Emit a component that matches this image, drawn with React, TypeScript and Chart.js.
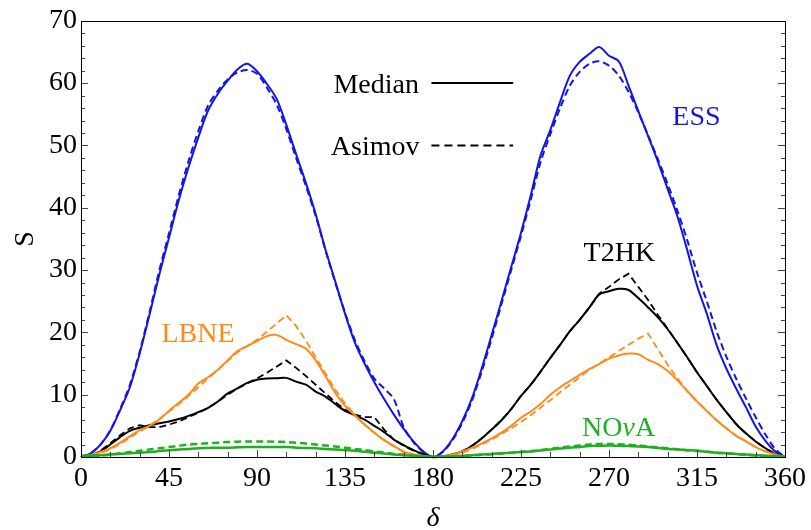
import { useEffect, useRef } from "react";
import { Chart, registerables } from "chart.js";

Chart.register(...registerables);

// delta grid (degrees), step 5
const DELTA = Array.from({ length: 73 }, (_, i) => i * 5);

const X_TICKS = [0, 45, 90, 135, 180, 225, 270, 315, 360];
const Y_TICKS = [0, 10, 20, 30, 40, 50, 60, 70];

const ESS_MEDIAN = [
  0, 0.6, 2.0, 4.2, 7.5, 11.2, 16.6, 22.8, 29.2, 35.2, 41.2, 46.5, 51.3, 55.6, 58.3, 60.4, 62.2, 63.1, 61.9,
  59.9, 57.5, 53.3, 48.6, 44.0, 39.0, 33.3, 28.2, 23.0, 18.4, 15.0, 12.0, 9.3, 6.8, 4.5, 2.5, 0.9, 0,
  0.9, 2.9, 5.8, 9.5, 14.3, 19.6, 25.0, 30.5, 36.0, 42.0, 48.4, 52.5, 57.0, 61.2, 63.4, 64.7, 65.8, 64.4,
  63.5, 59.6, 55.5, 51.5, 47.4, 43.0, 38.6, 33.2, 27.5, 23.0, 18.0, 14.2, 11.0, 8.0, 4.9, 2.6, 0.9, 0,
];
const ESS_ASIMOV = [
  0, 0.6, 2.0, 4.3, 7.7, 11.6, 16.9, 23.2, 29.9, 35.9, 42.0, 47.5, 52.3, 56.4, 58.8, 60.6, 61.7, 62.1, 61.5,
  59.3, 56.6, 52.6, 48.0, 43.5, 38.7, 33.2, 28.0, 23.2, 18.8, 15.4, 12.6, 11.0, 9.3, 4.8, 2.4, 0.8, 0,
  0.8, 2.7, 5.5, 9.1, 13.8, 19.0, 24.5, 30.0, 35.5, 41.3, 47.3, 51.8, 56.0, 59.6, 61.8, 63.1, 63.5, 62.8,
  61.2, 58.6, 55.3, 51.6, 47.8, 43.8, 39.5, 34.8, 29.6, 25.0, 20.2, 16.1, 12.6, 9.4, 6.4, 3.6, 1.3, 0,
];
const T2HK_MEDIAN = [
  0, 0.2, 0.9, 2.0, 3.2, 4.2, 4.7, 5.1, 5.4, 5.7, 6.1, 6.6, 7.2, 7.9, 8.9, 10.2, 11.0, 11.9, 12.4,
  12.6, 12.65, 12.7, 12.1, 11.6, 10.5, 9.7, 8.5, 7.4, 6.7, 6.0, 5.0, 4.0, 2.8, 1.9, 1.1, 0.5, 0,
  0.1, 0.4, 0.9, 1.8, 3.0, 4.4, 5.9, 7.7, 9.8, 11.6, 13.7, 15.9, 18.0, 20.2, 22.0, 24.0, 26.1, 26.6,
  27.0, 26.8, 25.5, 24.0, 22.4, 20.5, 18.3, 16.0, 13.6, 11.4, 9.2, 7.2, 5.3, 3.8, 2.5, 1.4, 0.5, 0,
];
const T2HK_ASIMOV = [
  0, 0.2, 1.0, 2.2, 3.5, 4.6, 5.1, 4.8, 4.8, 5.2, 5.7, 6.4, 7.1, 7.9, 8.9, 10.0, 11.0, 11.8, 12.6,
  13.5, 14.5, 15.5, 14.3, 13.0, 11.6, 10.2, 8.8, 7.6, 6.8, 6.4, 6.4, 4.4, 2.8, 1.8, 1.0, 0.4, 0,
  0.1, 0.4, 0.9, 1.8, 3.0, 4.4, 5.9, 7.7, 9.8, 11.6, 13.7, 15.9, 18.0, 20.2, 22.0, 24.0, 26.2, 27.3,
  28.5, 29.4, 27.3, 25.2, 22.8, 20.6, 18.3, 16.0, 13.6, 11.4, 9.2, 7.2, 5.3, 3.8, 2.5, 1.4, 0.5, 0,
];
const LBNE_MEDIAN = [
  0, 0.3, 0.8, 1.4, 2.3, 3.3, 4.3, 5.0, 6.0, 7.4, 8.7, 10.0, 11.8, 12.8, 14.0, 15.5, 17.0, 17.8, 18.6,
  19.4, 19.6, 18.8, 18.1, 17.4, 15.5, 13.0, 10.3, 8.2, 6.7, 5.2, 3.9, 2.7, 1.8, 0.8, 0.4, 0.2, 0,
  0.1, 0.4, 0.9, 1.5, 2.2, 3.0, 3.9, 5.0, 6.3, 7.3, 8.5, 10.0, 11.2, 12.2, 13.2, 14.1, 14.9, 15.8,
  16.3, 16.6, 16.5, 15.6, 14.9, 13.8, 12.3, 10.6, 8.9, 7.4, 5.9, 4.6, 3.4, 2.5, 1.6, 0.9, 0.4, 0,
];
const LBNE_ASIMOV = [
  0, 0.2, 0.6, 1.2, 2.1, 3.1, 4.1, 5.0, 6.1, 7.3, 8.5, 9.8, 11.2, 12.6, 14.0, 15.4, 16.8, 17.8, 18.8,
  20.1, 21.4, 22.75, 21.0, 18.7, 16.0, 13.4, 10.8, 8.6, 6.8, 5.2, 3.9, 2.7, 1.7, 0.9, 0.4, 0.1, 0,
  0.1, 0.3, 0.7, 1.3, 2.0, 2.8, 3.7, 4.6, 5.6, 6.7, 7.9, 9.1, 10.4, 11.6, 12.8, 14.0, 15.0, 16.0,
  17.0, 18.0, 19.0, 19.8, 17.3, 14.8, 12.6, 10.6, 8.9, 7.4, 5.9, 4.6, 3.4, 2.5, 1.6, 0.9, 0.4, 0,
];
const NOVA_MEDIAN = [
  0.2, 0.25, 0.3, 0.4, 0.5, 0.6, 0.7, 0.8, 0.95, 1.1, 1.2, 1.3, 1.4, 1.45, 1.5, 1.5, 1.55, 1.6, 1.6,
  1.6, 1.6, 1.6, 1.5, 1.45, 1.4, 1.3, 1.2, 1.1, 1.0, 0.85, 0.7, 0.55, 0.4, 0.3, 0.2, 0.1, 0,
  0.05, 0.1, 0.2, 0.3, 0.4, 0.5, 0.6, 0.7, 0.8, 0.9, 1.05, 1.2, 1.35, 1.5, 1.6, 1.75, 1.8, 1.85,
  1.8, 1.75, 1.7, 1.6, 1.45, 1.3, 1.2, 1.1, 1.0, 0.85, 0.7, 0.6, 0.5, 0.4, 0.3, 0.2, 0.15, 0.1,
];
const NOVA_ASIMOV = [
  0, 0.1, 0.2, 0.4, 0.6, 0.8, 1.0, 1.2, 1.4, 1.6, 1.8, 2.0, 2.1, 2.2, 2.3, 2.4, 2.45, 2.5, 2.5,
  2.5, 2.45, 2.4, 2.3, 2.15, 2.0, 1.85, 1.7, 1.5, 1.3, 1.1, 0.9, 0.7, 0.5, 0.35, 0.2, 0.1, 0,
  0.05, 0.1, 0.15, 0.25, 0.35, 0.45, 0.55, 0.7, 0.8, 0.95, 1.1, 1.3, 1.5, 1.7, 1.85, 2.0, 2.1, 2.1,
  2.05, 1.95, 1.85, 1.7, 1.55, 1.4, 1.25, 1.1, 1.0, 0.85, 0.7, 0.6, 0.45, 0.35, 0.25, 0.15, 0.05, 0,
];

const BLUE = "#1414e6";
const ORANGE = "#ff8a17";
const GREEN = "#1fb01f";
const BLACK = "#000000";
const FAMILY = "Liberation Serif";
const FONT = "'Liberation Serif'";

function pts(vals: number[]) {
  return vals.map((v, i) => ({ x: DELTA[i], y: v }));
}

const framePlugin = {
  id: "frameTicks",
  afterDatasetsDraw(chart: any) {
    const { ctx, chartArea } = chart;
    const { left, right, top, bottom } = chartArea;
    const xs = chart.scales.x;
    const ys = chart.scales.y;
    ctx.save();
    ctx.strokeStyle = "#444";
    ctx.lineWidth = 1;
    ctx.beginPath();
    for (let v = 0; v <= 70; v += 2) {
      const py = Math.round(ys.getPixelForValue(v)) + 0.5;
      const len = v % 10 === 0 ? 7 : 4;
      ctx.moveTo(left, py);
      ctx.lineTo(left + len, py);
      ctx.moveTo(right, py);
      ctx.lineTo(right - len, py);
    }
    for (let v = 0; v <= 360; v += 15) {
      const px = Math.round(xs.getPixelForValue(v)) + 0.5;
      const len = v % 45 === 0 ? 7 : 5;
      ctx.moveTo(px, bottom);
      ctx.lineTo(px, bottom - len);
    }
    ctx.stroke();
    ctx.strokeStyle = "#000";
    ctx.strokeRect(Math.round(left) + 0.5, Math.round(top) + 0.5, Math.round(right - left), Math.round(bottom - top));
    ctx.restore();
  },
  afterDraw(chart: any) {
    const { ctx } = chart;
    const xs = chart.scales.x;
    const ys = chart.scales.y;
    const X = (v: number) => xs.getPixelForValue(v);
    const Y = (v: number) => ys.getPixelForValue(v);
    const fN = `28px ${FONT}`;
    const fI = `italic 28px ${FONT}`;
    ctx.save();
    ctx.textBaseline = "alphabetic";
    ctx.font = fN;
    // legend
    ctx.fillStyle = BLACK;
    ctx.textAlign = "right";
    ctx.fillText("Median", X(172.8), Y(58.4));
    ctx.fillText("Asimov", X(173.1), Y(48.4));
    ctx.strokeStyle = BLACK;
    ctx.lineWidth = 2;
    ctx.beginPath();
    ctx.moveTo(X(179.2), Y(60.0));
    ctx.lineTo(X(221), Y(60.0));
    ctx.stroke();
    ctx.setLineDash([8, 5]);
    ctx.beginPath();
    ctx.moveTo(X(179.2), Y(50.0));
    ctx.lineTo(X(221), Y(50.0));
    ctx.stroke();
    ctx.setLineDash([]);
    // series labels
    ctx.textAlign = "center";
    ctx.fillStyle = BLUE;
    ctx.fillText("ESS", X(314.7), Y(53.2));
    ctx.fillStyle = BLACK;
    ctx.fillText("T2HK", X(275.3), Y(31.45));
    ctx.fillStyle = ORANGE;
    ctx.fillText("LBNE", X(59.8), Y(18.47));
    // NOvA with italic nu
    ctx.fillStyle = GREEN;
    ctx.textAlign = "left";
    ctx.font = fN;
    const w1 = ctx.measureText("NO").width;
    const w3 = ctx.measureText("A").width;
    ctx.font = fI;
    const w2 = ctx.measureText("ν").width;
    let sx = X(274.9) - (w1 + w2 + w3) / 2;
    const by = Y(3.42);
    ctx.font = fN;
    ctx.fillText("NO", sx, by);
    sx += w1;
    ctx.font = fI;
    ctx.fillText("ν", sx, by);
    sx += w2;
    ctx.font = fN;
    ctx.fillText("A", sx, by);
    // axis titles
    ctx.fillStyle = BLACK;
    ctx.textAlign = "center";
    ctx.font = fI;
    ctx.fillText("δ", (chart.chartArea.left + chart.chartArea.right) / 2, 526);
    ctx.font = fN;
    ctx.translate(33, (chart.chartArea.top + chart.chartArea.bottom) / 2);
    ctx.rotate(-Math.PI / 2);
    ctx.fillText("S", 0, 0);
    ctx.restore();
  },
};

export default function App() {
  const ref = useRef<HTMLCanvasElement | null>(null);
  useEffect(() => {
    if (!ref.current) return;
    let chart: any = null;
    let cancelled = false;
    const mk = (label: string, vals: number[], color: string, dashed: boolean, width: number, order: number, tension: number) => ({
      label,
      data: pts(vals),
      borderColor: color,
      backgroundColor: color,
      borderWidth: width,
      borderDash: dashed ? [7, 4] : [],
      pointRadius: 0,
      fill: false,
      tension,
      order,
      clip: 4,
    });
    const build = () => {
      if (cancelled || !ref.current) return;
      chart = new Chart(ref.current, {
        type: "line",
        data: {
          datasets: [
            mk("NOvA Median", NOVA_MEDIAN, GREEN, false, 2.5, 0, 0.3),
            mk("NOvA Asimov", NOVA_ASIMOV, GREEN, true, 2.5, 1, 0.3),
            mk("LBNE Median", LBNE_MEDIAN, ORANGE, false, 2, 2, 0.3),
            mk("LBNE Asimov", LBNE_ASIMOV, ORANGE, true, 1.8, 3, 0),
            mk("T2HK Median", T2HK_MEDIAN, BLACK, false, 2, 4, 0.3),
            mk("T2HK Asimov", T2HK_ASIMOV, BLACK, true, 1.8, 5, 0),
            mk("ESS Median", ESS_MEDIAN, BLUE, false, 2, 6, 0.3),
            mk("ESS Asimov", ESS_ASIMOV, BLUE, true, 2, 7, 0.3),
          ] as any,
        },
        options: {
          responsive: false,
          animation: false,
          devicePixelRatio: 1,
          layout: { padding: { left: 0, top: 20, right: 23, bottom: 0 } },
          plugins: { legend: { display: false }, tooltip: { enabled: false } },
          scales: {
            x: {
              type: "linear",
              min: 0,
              max: 360,
              afterFit: (s: any) => {
                s.height = 73;
              },
              afterBuildTicks: (s: any) => {
                s.ticks = X_TICKS.map((v) => ({ value: v }));
              },
              grid: { display: false, drawTicks: false },
              border: { display: false },
              ticks: {
                padding: 5,
                color: "#000",
                font: { family: FONT, size: 28 },
                maxRotation: 0,
                autoSkip: false,
              },
            },
            y: {
              type: "linear",
              min: 0,
              max: 70,
              afterFit: (s: any) => {
                s.width = 81;
              },
              afterBuildTicks: (s: any) => {
                s.ticks = Y_TICKS.map((v) => ({ value: v }));
              },
              grid: { display: false, drawTicks: false },
              border: { display: false },
              ticks: {
                padding: 4,
                color: "#000",
                font: { family: FONT, size: 28 },
                autoSkip: false,
              },
            },
          },
        } as any,
        plugins: [framePlugin],
      });
    };
    const fonts: any = (document as any).fonts;
    if (fonts && fonts.load) {
      Promise.all([
        fonts.load(`28px '${FAMILY}'`),
        fonts.load(`italic 28px '${FAMILY}'`),
      ]).then(build, build);
    } else {
      build();
    }
    return () => {
      cancelled = true;
      if (chart) chart.destroy();
    };
  }, []);
  return (
    <canvas
      ref={ref}
      width={811}
      height={530}
      style={{ position: "absolute", left: 0, top: 0, width: 811, height: 530, background: "#fff" }}
    />
  );
}
